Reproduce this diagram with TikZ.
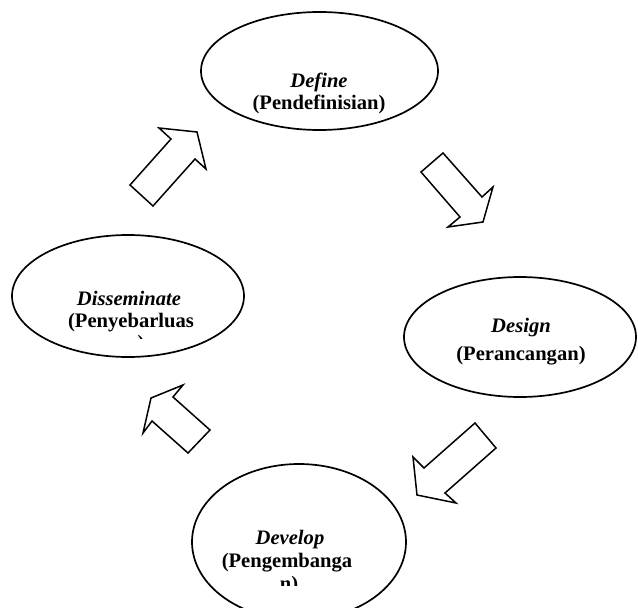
\documentclass[tikz,border=0pt]{standalone}
\usepackage{fontspec}
\setmainfont{Liberation Serif}
\usetikzlibrary{shapes.geometric}
\begin{document}
\begin{tikzpicture}[x=1pt,y=-1pt,
  stage/.style={draw, line width=1.7pt, ellipse, inner sep=0pt},
  blockarrow/.style={draw, line width=1.5pt, line join=miter, fill=white},
  lbl/.style={font=\fontsize{20.6}{24}\selectfont\bfseries, inner sep=0pt, anchor=base}]
\useasboundingbox (0,0) rectangle (638,608);
\clip (0,0) rectangle (638,608);
% stages
\node[stage, minimum width=237pt, minimum height=118pt] (define) at (319.5,71) {};
\node[stage, minimum width=232pt, minimum height=122pt] (dissem) at (128,296) {};
\node[stage, minimum width=232pt, minimum height=120pt] (design) at (520,337) {};
\node[stage, minimum width=214pt, minimum height=156pt] (develop) at (299,542) {};
% labels
\node[lbl] (t1a) at (319,87) {\itshape Define};
\node[lbl] (t1b) at (319,109) {(Pendefinisian)};
\node[lbl] (t2a) at (129,305) {\itshape Disseminate};
\node[lbl] (t2b) at (131,327) {(Penyebarluas};
\begin{scope}
  \clip (100,320) rectangle (170,338);
  \node[lbl] (t2c) at (141,349) {)};
\end{scope}
\node[lbl] (t3a) at (521,332) {\itshape Design};
\node[lbl] (t3b) at (521,360) {(Perancangan)};
\node[lbl] (t4a) at (290,544) {\itshape Develop};
\node[lbl] (t4b) at (287,567) {(Pengembanga};
\begin{scope}
  \clip (250,570) rectangle (330,585);
  \node[lbl] (t4c) at (289,590) {n)};
\end{scope}
% block arrows
\draw[blockarrow] (130,185) -- (171,139) -- (159,128) -- (197,132) -- (206,169) -- (195,159) -- (153,206) -- cycle;
\draw[blockarrow] (443,153) -- (421,172) -- (460,217) -- (448,227) -- (483,222) -- (493,187) -- (482,197) -- cycle;
\draw[blockarrow] (475,423) -- (496,448) -- (445,493) -- (456,503) -- (417,495) -- (413,457) -- (424,468) -- cycle;
\draw[blockarrow] (188,453) -- (152,421) -- (143,433) -- (151,398) -- (183,385) -- (173,397) -- (210,430) -- cycle;
\end{tikzpicture}
\end{document}
